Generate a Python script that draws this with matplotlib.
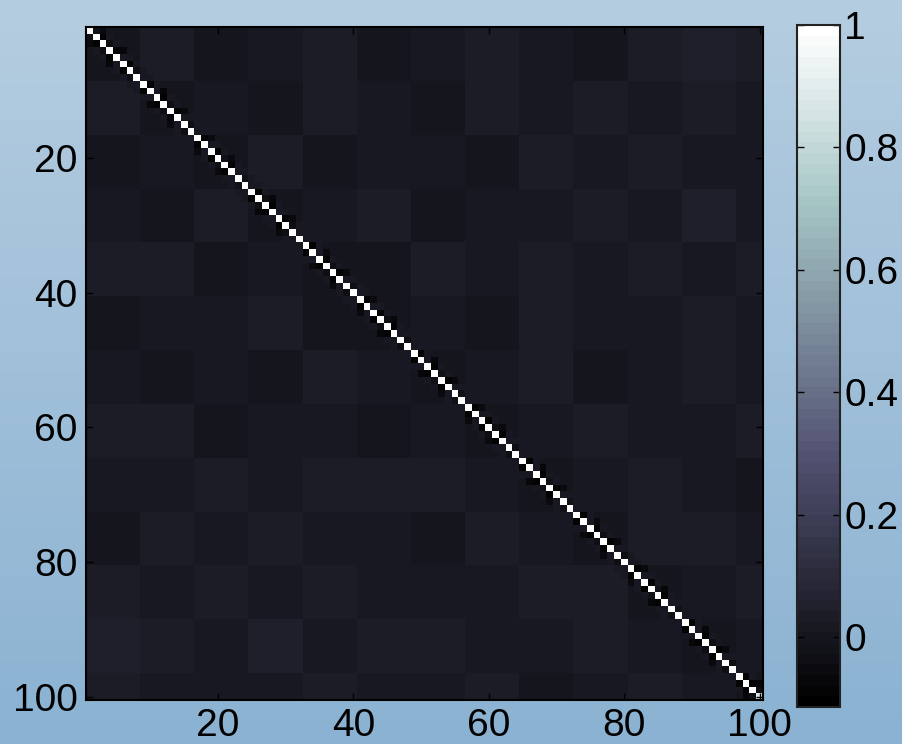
import matplotlib
matplotlib.use("Agg")
import matplotlib.pyplot as plt
import numpy as np
from matplotlib.colors import LinearSegmentedColormap

plt.rcParams["font.family"] = ["Liberation Sans", "DejaVu Sans"]

# --- Data -------------------------------------------------------------------

n_vars = 100
block_size = 8

# mean correlation of each 8x8 block, upper triangle row by row (incl. diagonal)
block_upper = [
    [0.005, 0.030, 0.000, 0.020, 0.040, -0.005, 0.020, 0.035, 0.025, 0.000, 0.040, 0.045, 0.030],
    [0.005, 0.020, -0.005, 0.035, 0.010, 0.000, 0.030, 0.015, 0.040, 0.020, 0.035, 0.010],
    [0.005, 0.035, 0.000, 0.020, 0.010, -0.005, 0.030, 0.015, 0.040, 0.020, 0.025],
    [0.005, 0.020, 0.040, 0.000, 0.025, 0.010, 0.035, 0.015, 0.045, 0.020],
    [0.005, 0.000, 0.035, 0.010, 0.030, 0.015, 0.040, 0.020, 0.030],
    [0.005, 0.025, 0.000, 0.035, 0.020, 0.010, 0.040, 0.020],
    [0.005, 0.015, 0.035, 0.000, 0.025, 0.040, 0.010],
    [0.005, 0.025, 0.040, 0.015, 0.020, 0.035],
    [0.005, 0.015, 0.035, 0.025, 0.000],
    [0.005, 0.030, 0.040, 0.020],
    [0.005, 0.015, 0.035],
    [0.005, 0.025],
    [0.005],
]

# first off-diagonal (neighbouring variables)
near_diag = [
    -0.02, -0.09, -0.03, -0.09, 0.01, -0.08, -0.03, 0.02, -0.09, 0.01,
    -0.08, -0.03, -0.09, 0.01, -0.03, 0.02, -0.08, 0.01, -0.09, -0.02,
    -0.09, 0.01, -0.02, 0.02, -0.09, -0.03, -0.08, 0.01, -0.09, -0.03,
    0.01, 0.02, -0.08, 0.01, -0.09, -0.03, -0.08, 0.01, -0.03, 0.02,
    -0.09, 0.01, -0.08, -0.03, -0.09, 0.01, -0.03, 0.02, -0.08, 0.01,
    -0.09, -0.02, -0.09, 0.01, -0.02, 0.02, -0.09, 0.01, -0.08, -0.03,
    -0.09, 0.01, -0.03, 0.02, -0.08, 0.01, -0.09, -0.02, -0.08, 0.01,
    -0.02, 0.02, -0.09, 0.01, -0.08, -0.03, -0.09, 0.01, -0.03, 0.02,
    -0.08, 0.01, -0.09, -0.02, -0.09, 0.01, -0.02, 0.02, -0.09, 0.01,
    -0.08, -0.03, -0.09, 0.01, -0.03, 0.02, -0.08, -0.09, -0.03,
]

# second off-diagonal
near_diag2 = [
    -0.06, 0.02, 0.01, -0.07, 0.02, 0.01, 0.02, 0.02, 0.01, -0.07,
    0.02, 0.01, -0.05, 0.02, 0.02, 0.01, -0.06, 0.02, 0.01, -0.06,
    0.02, 0.01, 0.02, 0.02, 0.01, -0.07, 0.02, 0.01, -0.05, 0.02,
    0.02, 0.01, 0.01, -0.06, 0.02, 0.01, -0.05, 0.02, 0.02, 0.02,
    -0.06, 0.02, 0.01, -0.07, 0.02, 0.01, 0.01, 0.02, 0.01, -0.07,
    0.02, 0.01, -0.05, 0.02, 0.02, 0.01, -0.06, 0.02, 0.01, -0.06,
    0.02, 0.01, 0.02, 0.02, 0.01, -0.07, 0.02, 0.01, -0.05, 0.02,
    0.02, 0.01, 0.01, -0.06, 0.02, 0.01, -0.05, 0.02, 0.02, 0.02,
    -0.06, 0.02, 0.01, -0.07, 0.02, 0.01, 0.01, 0.02, 0.01, -0.07,
    0.02, 0.01, -0.05, 0.02, 0.02, 0.01, 0.01, -0.07,
]

diag_last = 0.88
clim = (-0.114, 1.0)
tick_vals = [20, 40, 60, 80, 100]
cbar_ticks = [0, 0.2, 0.4, 0.6, 0.8, 1]
cbar_labels = ["0", "0.2", "0.4", "0.6", "0.8", "1"]

# --- Build matrix -------------------------------------------------------------

nb = len(block_upper)
blocks = np.zeros((nb, nb))
for i, row in enumerate(block_upper):
    for k, v in enumerate(row):
        blocks[i, i + k] = v
        blocks[i + k, i] = v

corr = np.repeat(np.repeat(blocks, block_size, axis=0), block_size, axis=1)[:n_vars, :n_vars]
for off, vals in [(1, near_diag), (2, near_diag2)]:
    idx = np.arange(n_vars - off)
    corr[idx, idx + off] = vals
    corr[idx + off, idx] = vals
np.fill_diagonal(corr, 1.0)
corr[-1, -1] = diag_last

# --- Plot ---------------------------------------------------------------------

fig = plt.figure(figsize=(9.02, 7.44), dpi=100)

# background gradient
bg = fig.add_axes([0, 0, 1, 1], zorder=-10)
bg_cmap = LinearSegmentedColormap.from_list("bg", ["#b5cde0", "#8bb2d2"])
bg.imshow(np.linspace(0, 1, 256)[:, None], aspect="auto", cmap=bg_cmap,
          extent=(0, 1, 0, 1))
bg.axis("off")

ax = fig.add_axes([86 / 902, 1 - 700 / 744, 677 / 902, 673 / 744])
cmap = plt.get_cmap("bone", 64)
im = ax.imshow(corr, cmap=cmap, vmin=clim[0], vmax=clim[1], aspect="auto",
               interpolation="nearest", extent=(0.5, n_vars + 0.5, n_vars + 0.5, 0.5))

ax.set_xticks(tick_vals)
ax.set_yticks(tick_vals)
ax.tick_params(direction="in", length=5, width=1, labelsize=28, pad=6,
               top=True, right=True)
for s in ax.spines.values():
    s.set_linewidth(1.5)

cax = fig.add_axes([797 / 902, 1 - 707 / 744, 43 / 902, 682 / 744])
cb = fig.colorbar(im, cax=cax, ticks=cbar_ticks)
cb.ax.set_yticklabels(cbar_labels)
cb.ax.tick_params(direction="in", length=5, width=1, labelsize=28, pad=3,
                  left=True, right=True)
cb.outline.set_linewidth(1.5)
cb.outline.set_edgecolor("#222222")

fig.savefig("out.png", dpi=100)
